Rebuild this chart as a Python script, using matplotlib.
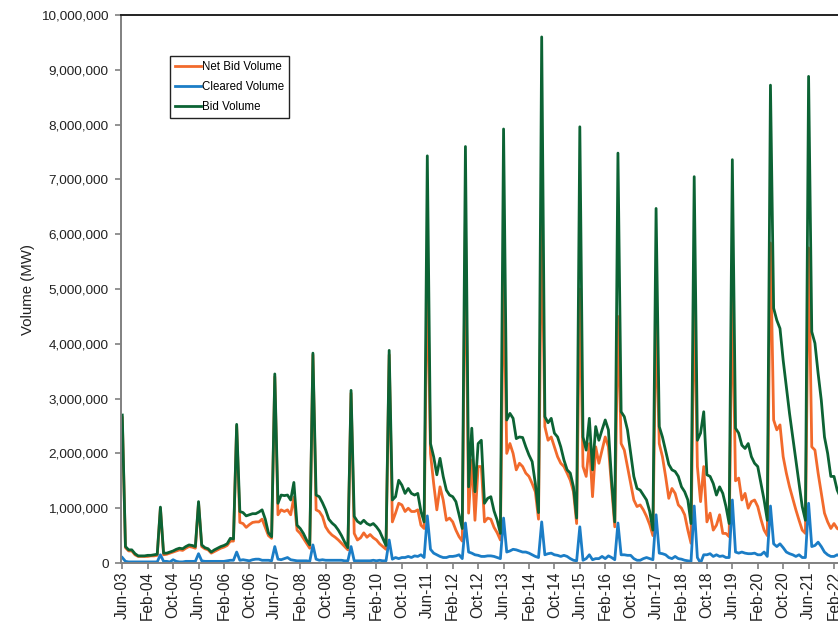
import numpy as np
import pandas as pd
import matplotlib
matplotlib.use("Agg")
import matplotlib.pyplot as plt
from matplotlib.ticker import FuncFormatter

plt.rcParams['font.family'] = ['Liberation Sans', 'DejaVu Sans']

# =========================
# DATA (millions of MW), one row per planning year Jun..May
# =========================

start_month = "2003-06"

bid_volume = [
    2.70, 0.30, 0.24, 0.24, 0.17, 0.13, 0.13, 0.13, 0.14, 0.14, 0.15, 0.16,  # 2003
    1.02, 0.18, 0.18, 0.20, 0.22, 0.25, 0.27, 0.26, 0.30, 0.33, 0.32, 0.30,  # 2004
    1.12, 0.33, 0.28, 0.26, 0.20, 0.24, 0.27, 0.30, 0.32, 0.35, 0.45, 0.44,  # 2005
    2.53, 0.94, 0.92, 0.86, 0.88, 0.90, 0.90, 0.93, 0.97, 0.80, 0.55, 0.48,  # 2006
    3.45, 1.09, 1.24, 1.23, 1.24, 1.15, 1.47, 0.69, 0.63, 0.54, 0.42, 0.33,  # 2007
    3.83, 1.24, 1.21, 1.10, 0.97, 0.80, 0.73, 0.68, 0.60, 0.50, 0.38, 0.28,  # 2008
    3.15, 0.85, 0.76, 0.72, 0.78, 0.72, 0.69, 0.72, 0.66, 0.58, 0.45, 0.32,  # 2009
    3.88, 1.15, 1.21, 1.51, 1.42, 1.27, 1.36, 1.27, 1.24, 1.27, 0.94, 0.75,  # 2010
    7.43, 2.18, 1.94, 1.61, 1.91, 1.58, 1.33, 1.24, 1.21, 1.12, 0.88, 0.63,  # 2011
    7.60, 1.39, 2.46, 1.30, 2.18, 2.24, 1.09, 1.18, 1.21, 0.95, 0.78, 0.54,  # 2012
    7.92, 2.61, 2.73, 2.64, 2.27, 2.30, 2.29, 2.12, 1.97, 1.85, 1.45, 0.92,  # 2013
    9.60, 2.67, 2.56, 2.64, 2.37, 2.30, 2.12, 1.88, 1.70, 1.64, 1.39, 0.82,  # 2014
    7.96, 2.30, 2.06, 2.64, 1.70, 2.49, 2.24, 2.43, 2.61, 2.43, 1.51, 0.75,  # 2015
    7.48, 2.76, 2.67, 2.43, 2.00, 1.58, 1.36, 1.33, 1.24, 1.15, 0.94, 0.60,  # 2016
    6.47, 2.49, 2.30, 2.05, 1.80, 1.70, 1.67, 1.58, 1.39, 1.30, 1.15, 0.72,  # 2017
    7.05, 2.24, 2.37, 2.76, 1.61, 1.58, 1.45, 1.24, 1.39, 1.27, 1.03, 0.72,  # 2018
    7.36, 2.46, 2.37, 2.15, 2.09, 2.18, 1.94, 1.82, 1.76, 1.45, 1.15, 0.78,  # 2019
    8.72, 4.65, 4.43, 4.28, 3.70, 3.22, 2.73, 2.30, 1.88, 1.45, 1.03, 0.78,  # 2020
    8.88, 4.22, 4.01, 3.46, 2.97, 2.30, 2.00, 1.58, 1.58, 1.33, 1.20,        # 2021
]

net_bid_volume = [
    2.65, 0.28, 0.22, 0.22, 0.15, 0.12, 0.12, 0.12, 0.12, 0.13, 0.13, 0.14,
    1.00, 0.15, 0.16, 0.18, 0.20, 0.22, 0.24, 0.23, 0.27, 0.30, 0.29, 0.27,
    1.10, 0.30, 0.26, 0.24, 0.18, 0.21, 0.24, 0.27, 0.29, 0.32, 0.40, 0.40,
    2.50, 0.74, 0.72, 0.65, 0.70, 0.74, 0.75, 0.75, 0.80, 0.65, 0.50, 0.45,
    3.40, 0.88, 0.97, 0.94, 0.97, 0.88, 1.20, 0.60, 0.54, 0.45, 0.36, 0.27,
    3.80, 0.97, 0.94, 0.85, 0.66, 0.57, 0.51, 0.47, 0.42, 0.36, 0.30, 0.24,
    3.10, 0.54, 0.42, 0.46, 0.55, 0.47, 0.52, 0.46, 0.42, 0.35, 0.30, 0.25,
    3.80, 0.75, 0.91, 1.09, 1.06, 0.94, 1.00, 0.94, 0.94, 0.97, 0.69, 0.63,
    5.50, 2.00, 1.45, 0.97, 1.39, 1.15, 0.78, 0.82, 0.75, 0.60, 0.48, 0.40,
    6.30, 0.91, 1.88, 0.78, 1.76, 1.76, 0.75, 0.82, 0.80, 0.65, 0.55, 0.42,
    5.40, 2.00, 2.18, 2.00, 1.70, 1.82, 1.76, 1.64, 1.58, 1.45, 1.30, 0.80,
    6.40, 2.49, 2.24, 2.30, 2.12, 1.94, 1.82, 1.76, 1.64, 1.51, 1.30, 0.72,
    5.00, 1.76, 1.58, 2.18, 1.21, 2.12, 1.82, 2.06, 2.30, 2.12, 1.39, 0.66,
    4.50, 2.18, 2.06, 1.76, 1.45, 1.15, 1.03, 1.06, 0.97, 0.85, 0.70, 0.50,
    4.50, 2.18, 1.94, 1.58, 1.18, 1.36, 1.27, 1.06, 1.00, 0.88, 0.60, 0.36,
    5.00, 1.76, 1.12, 1.76, 0.75, 0.91, 0.60, 0.69, 0.88, 0.54, 0.54, 0.48,
    5.00, 1.50, 1.55, 1.15, 1.27, 1.00, 1.12, 1.15, 1.03, 0.80, 0.60, 0.50,
    5.84, 2.61, 2.43, 2.52, 1.94, 1.64, 1.39, 1.18, 0.97, 0.78, 0.60, 0.54,
    5.75, 2.12, 2.06, 1.64, 1.27, 0.91, 0.75, 0.63, 0.72, 0.63, 0.60,
]

cleared_volume = [
    0.10, 0.03, 0.02, 0.02, 0.02, 0.02, 0.02, 0.02, 0.02, 0.02, 0.02, 0.02,
    0.15, 0.03, 0.03, 0.02, 0.06, 0.03, 0.02, 0.02, 0.03, 0.03, 0.03, 0.03,
    0.17, 0.04, 0.03, 0.03, 0.03, 0.03, 0.03, 0.03, 0.03, 0.04, 0.05, 0.05,
    0.20, 0.05, 0.06, 0.05, 0.04, 0.06, 0.07, 0.07, 0.05, 0.05, 0.05, 0.04,
    0.30, 0.07, 0.06, 0.08, 0.10, 0.06, 0.05, 0.04, 0.04, 0.04, 0.04, 0.03,
    0.33, 0.07, 0.05, 0.06, 0.05, 0.05, 0.05, 0.05, 0.05, 0.05, 0.04, 0.04,
    0.30, 0.04, 0.04, 0.04, 0.04, 0.04, 0.04, 0.05, 0.04, 0.05, 0.04, 0.04,
    0.42, 0.07, 0.10, 0.08, 0.10, 0.10, 0.12, 0.10, 0.13, 0.12, 0.15, 0.10,
    0.86, 0.25, 0.18, 0.15, 0.12, 0.10, 0.10, 0.12, 0.12, 0.13, 0.15, 0.08,
    0.73, 0.20, 0.18, 0.15, 0.14, 0.12, 0.12, 0.13, 0.13, 0.12, 0.10, 0.08,
    0.82, 0.20, 0.22, 0.25, 0.24, 0.22, 0.20, 0.20, 0.18, 0.15, 0.12, 0.10,
    0.75, 0.15, 0.17, 0.18, 0.15, 0.14, 0.12, 0.14, 0.12, 0.08, 0.05, 0.04,
    0.66, 0.05, 0.08, 0.15, 0.06, 0.08, 0.08, 0.12, 0.08, 0.13, 0.10, 0.06,
    0.73, 0.15, 0.15, 0.14, 0.14, 0.08, 0.05, 0.05, 0.08, 0.10, 0.08, 0.06,
    0.88, 0.18, 0.17, 0.15, 0.10, 0.08, 0.12, 0.08, 0.07, 0.05, 0.04, 0.03,
    1.04, 0.10, 0.00, 0.15, 0.15, 0.17, 0.12, 0.15, 0.12, 0.13, 0.10, 0.10,
    1.15, 0.20, 0.18, 0.20, 0.18, 0.17, 0.17, 0.18, 0.15, 0.15, 0.20, 0.12,
    1.04, 0.35, 0.30, 0.35, 0.28, 0.20, 0.17, 0.15, 0.12, 0.15, 0.10, 0.10,
    1.09, 0.30, 0.32, 0.38, 0.30, 0.20, 0.15, 0.12, 0.12, 0.15, 0.12,
]

# =========================
# PLOTTING
# =========================

n = len(bid_volume)
months = pd.date_range(start_month, periods=n, freq="MS")
x = np.arange(n)

fig = plt.figure(figsize=(8.38, 6.23), dpi=100)
# axes run past the right edge of the picture, like the cropped original
ax = fig.add_axes([0.1444, 0.0963, 0.9115, 0.8796])

ax.plot(x, np.array(net_bid_volume) * 1e6, color="#F26A2C", lw=2.0, label="Net Bid Volume")
ax.plot(x, np.array(cleared_volume) * 1e6, color="#1B7DC6", lw=2.0, label="Cleared Volume")
ax.plot(x, np.array(bid_volume) * 1e6, color="#0C6334", lw=2.0, label="Bid Volume")

ax.set_xlim(-0.4, 240)
ax.set_ylim(0, 10_000_000)
ax.set_yticks(np.arange(0, 10_000_001, 1_000_000))
ax.yaxis.set_major_formatter(FuncFormatter(lambda v, p: f"{int(v):,}"))

tick_idx = x[::8]
ax.set_xticks(tick_idx)
ax.set_xticklabels([months[i].strftime("%b-%y") for i in tick_idx], rotation=90)

ax.tick_params(axis="both", colors="#808080", labelcolor="#222222",
               length=4, width=1.2, direction="out")
ax.tick_params(axis="y", pad=5, labelsize=9.7)
ax.tick_params(axis="x", pad=2, labelsize=11.2)

ax.spines["right"].set_visible(False)
ax.spines["left"].set_color("#808080")
ax.spines["bottom"].set_color("#808080")
ax.spines["top"].set_color("#222222")
for s in ["left", "bottom", "top"]:
    ax.spines[s].set_linewidth(1.4)

ax.set_ylabel("Volume (MW)", fontsize=10.8, color="#222222", labelpad=4)

leg = ax.legend(loc="upper left", bbox_to_anchor=(0.064, 0.925), borderaxespad=0,
                fontsize=8.3, handlelength=2.3, handletextpad=0.1,
                labelspacing=0.72, borderpad=0.4, fancybox=False, framealpha=1)
leg.get_frame().set_edgecolor("#222222")
leg.get_frame().set_linewidth(1.0)

plt.savefig("out.png", dpi=100)
